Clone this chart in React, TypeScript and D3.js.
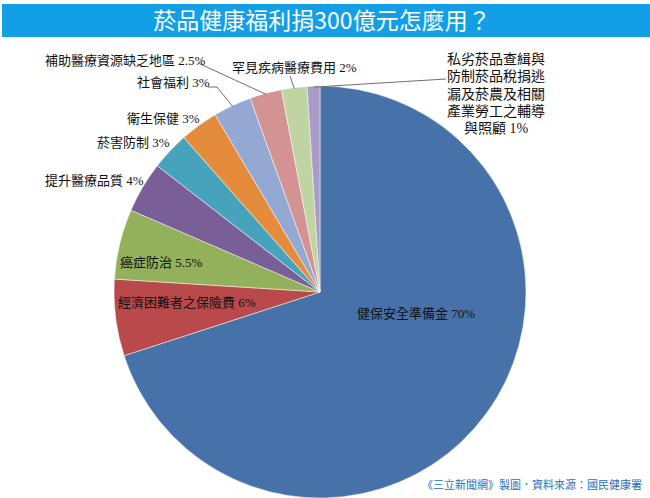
import { useEffect, useRef } from 'react';
import * as d3 from 'd3';

const categories = [
  '健保安全準備金',
  '經濟困難者之保險費',
  '癌症防治',
  '提升醫療品質',
  '菸害防制',
  '衛生保健',
  '社會福利',
  '補助醫療資源缺乏地區',
  '罕見疾病醫療費用',
  '私劣菸品查緝與防制菸品稅捐逃漏及菸農及相關產業勞工之輔導與照顧',
];
const shares = [70, 6, 5.5, 4, 3, 3, 3, 2.5, 2, 1];
const shareLabels = ['70%', '6%', '5.5%', '4%', '3%', '3%', '3%', '2.5%', '2%', '1%'];
const colors = [
  '#4672a9', '#b9494a', '#93b15a', '#7a5e98', '#47a3bb',
  '#e48b3c', '#93a9d3', '#d39392', '#bfd4a0', '#a99cc6',
];
const title = '菸品健康福利捐300億元怎麼用？';
const footer = '《三立新聞網》製圖．資料來源：國民健康署';

// label placement: [x, y, anchor]; leader: label-side points or null
const labelPos: [number, number, string][] = [
  [416, 318, 'middle'],
  [118, 307, 'start'],
  [120, 267, 'start'],
  [45, 185, 'start'],
  [97, 147, 'start'],
  [127, 123, 'start'],
  [137, 87, 'start'],
  [45, 65, 'start'],
  [232, 72, 'start'],
  [496, 64, 'middle'],
];
const leaders: ([number, number][] | null)[] = [
  null, null, null, null, null, null,
  [[208, 87], [217, 87]],
  [[198, 63]],
  [[290, 76]],
  [[446, 79]],
];
const multiLines = ['私劣菸品查緝與', '防制菸品稅捐逃', '漏及菸農及相關', '產業勞工之輔導', '與照顧 1%'];

const App = () => {
  const svgRef = useRef<SVGSVGElement | null>(null);

  useEffect(() => {
    const svg = d3.select(svgRef.current);
    svg.selectAll('*').remove();

    const W = 650;
    const H = 498;
    const cx = 320;
    const cy = 292;
    const r = 206;
    const labelFont = '"Liberation Serif", "Noto Sans CJK TC", serif';

    svg.append('rect').attr('width', W).attr('height', H).attr('fill', '#fff');

    // title band
    svg.append('rect')
      .attr('x', 2).attr('y', 4).attr('width', W - 2).attr('height', 33)
      .attr('fill', '#129fe6');
    svg.append('text')
      .attr('x', 322).attr('y', 29)
      .attr('text-anchor', 'middle')
      .attr('fill', '#fff')
      .style('font-family', '"Noto Sans CJK TC", sans-serif')
      .style('font-size', '23px')
      .text(title);

    const data = categories.map((c, i) => ({ name: c, value: shares[i], i }));
    const pie = d3.pie<any>().value(d => d.value).sort(null).startAngle(0).endAngle(2 * Math.PI);
    const arcs = pie(data);
    const arc = d3.arc<any>().innerRadius(0).outerRadius(r);

    const g = svg.append('g').attr('transform', `translate(${cx},${cy})`);
    g.selectAll('path')
      .data(arcs)
      .enter()
      .append('path')
      .attr('d', arc)
      .attr('fill', d => colors[d.data.i])
      .attr('stroke', '#fff')
      .attr('stroke-width', 0.5);

    // leader lines
    arcs.forEach((a, i) => {
      const pts = leaders[i];
      if (!pts) return;
      const mid = (a.startAngle + a.endAngle) / 2;
      const edge: [number, number] = [cx + (r - 1) * Math.sin(mid), cy - (r - 1) * Math.cos(mid)];
      const line = d3.line();
      svg.append('path')
        .attr('d', line([...pts, edge]))
        .attr('fill', 'none')
        .attr('stroke', '#6f6f6f')
        .attr('stroke-width', 1);
    });

    // labels
    categories.forEach((c, i) => {
      const [x, y, anchor] = labelPos[i];
      if (i === categories.length - 1) {
        multiLines.forEach((ln, k) => {
          svg.append('text')
            .attr('x', x).attr('y', y + k * 17.3)
            .attr('text-anchor', anchor)
            .attr('fill', '#111')
            .style('font-family', labelFont)
            .style('font-size', '14px')
            .text(ln);
        });
        return;
      }
      svg.append('text')
        .attr('x', x).attr('y', y)
        .attr('text-anchor', anchor)
        .attr('fill', '#111')
        .style('font-family', labelFont)
        .style('font-size', '13px')
        .text(`${c} ${shareLabels[i]}`);
    });

    svg.append('text')
      .attr('x', 642).attr('y', 489)
      .attr('text-anchor', 'end')
      .attr('fill', '#2a6fb8')
      .style('font-family', '"Noto Sans CJK TC", sans-serif')
      .style('font-size', '11px')
      .text(footer);
  }, []);

  return (
    <svg
      ref={svgRef}
      width={650}
      height={498}
      style={{ position: 'absolute', left: 0, top: 0, display: 'block' }}
    />
  );
};

export default App;
